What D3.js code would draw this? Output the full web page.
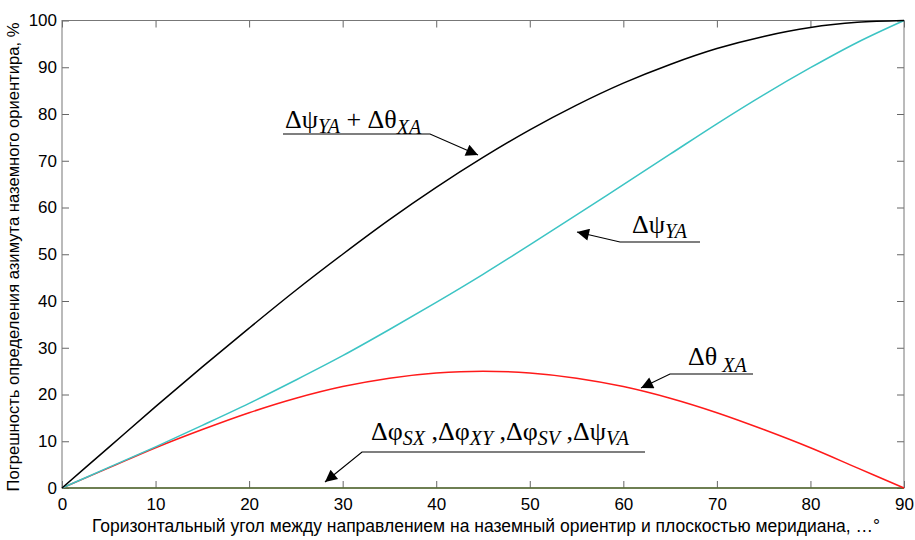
<!DOCTYPE html>
<html>
<head>
<meta charset="utf-8">
<script src="https://cdn.jsdelivr.net/npm/d3@7"></script>
<style>
body { margin:0; background:#fff; }
.tick text { font-family:"Liberation Sans", Arial, sans-serif; font-size:17px; fill:#000; }
</style>
</head>
<body>
<div class="canvas"></div>
<script>
//Values, every 5 degrees
var angles = [0,5,10,15,20,25,30,35,40,45,50,55,60,65,70,75,80,85,90];
var sumValues = [0,8.7,17.4,25.9,34.2,42.3,50,57.4,64.3,70.7,76.6,81.9,86.6,90.6,94.0,96.6,98.5,99.6,100];
var psiValues = [0,4.4,8.8,13.4,18.1,23.1,28.3,33.9,39.7,45.7,52.0,58.4,64.9,71.4,77.9,84.1,89.9,95.3,100];
var thetaValues = [0,4.3,8.6,12.5,16.1,19.2,21.7,23.5,24.6,25,24.6,23.5,21.7,19.2,16.1,12.5,8.6,4.3,0];
var zeroValues = [0,0,0,0,0,0,0,0,0,0,0,0,0,0,0,0,0,0,0];
var xTicks = [0,10,20,30,40,50,60,70,80,90];
var yTicks = [0,10,20,30,40,50,60,70,80,90,100];

//Set up the drawing environment here
var margin = {t:20.5,r:11,b:52,l:62};
var W = 915, H = 540;
var width = W-margin.l-margin.r,
	height = H-margin.t-margin.b;
var serif = '"Times New Roman", "Liberation Serif", "DejaVu Serif", serif';
var sans = '"Liberation Sans", Arial, sans-serif';

var svg = d3.select('.canvas')
	.append('svg')
	.attr('width',W)
	.attr('height',H);

var plot = svg.append('g')
	.attr('transform','translate('+margin.l+','+margin.t+')');

var x = d3.scaleLinear().domain([0,90]).range([0,width]);
var y = d3.scaleLinear().domain([0,100]).range([height,0]);

//axes with inward ticks on all four sides
var gx = plot.append('g').attr('transform','translate(0,'+height+')')
	.call(d3.axisBottom(x).tickValues(xTicks).tickSizeInner(-7).tickSizeOuter(0).tickPadding(12));
var gy = plot.append('g')
	.call(d3.axisLeft(y).tickValues(yTicks).tickSizeInner(-7).tickSizeOuter(0).tickPadding(5));
var gt = plot.append('g')
	.call(d3.axisTop(x).tickValues(xTicks).tickSizeInner(-7).tickSizeOuter(0).tickFormat(''));
var gr = plot.append('g').attr('transform','translate('+width+',0)')
	.call(d3.axisRight(y).tickValues(yTicks).tickSizeInner(-7).tickSizeOuter(0).tickFormat(''));
[gx,gy,gt,gr].forEach(function (g) {
	g.select('.domain').remove();
	g.selectAll('.tick line').attr('stroke','#666');
});
gx.selectAll('.tick text').attr('dy','0.6em');

plot.append('rect')
	.attr('width',width)
	.attr('height',height)
	.attr('fill','none')
	.attr('stroke','#777')
	.attr('stroke-width',1);

//curves
var line = d3.line()
	.x(function (d) { return x(d[0]); })
	.y(function (d) { return y(d[1]); })
	.curve(d3.curveMonotoneX);

var series = [
	{vals:zeroValues, color:'#556b2f'},
	{vals:thetaValues, color:'#ff1a1a'},
	{vals:psiValues, color:'#3cc4c4'},
	{vals:sumValues, color:'#000000'}
];
series.forEach(function (s) {
	plot.append('path')
		.datum(angles.map(function (a, i) { return [a, s.vals[i]]; }))
		.attr('d',line)
		.attr('fill','none')
		.attr('stroke',s.color)
		.attr('stroke-width',1.5);
});

//annotations with leader lines and arrowheads
svg.append('defs').append('marker')
	.attr('id','arr')
	.attr('viewBox','0 0 10 10')
	.attr('refX',10).attr('refY',5)
	.attr('markerWidth',18).attr('markerHeight',12)
	.attr('markerUnits','userSpaceOnUse')
	.attr('orient','auto')
	.append('path').attr('d','M0,0L10,5L0,10Z').attr('fill','#000');

function leader(pts) {
	svg.append('path')
		.attr('d','M'+pts.join('L'))
		.attr('fill','none')
		.attr('stroke','#000')
		.attr('stroke-width',1.2)
		.attr('marker-end','url(#arr)');
}

function label(px, py, parts) {
	var t = svg.append('text')
		.attr('x',px).attr('y',py)
		.style('font-family',serif)
		.style('font-size','26px')
		.attr('fill','#000');
	parts.forEach(function (p) {
		var ts = t.append('tspan').text(p.t);
		if (p.sub) {
			ts.style('font-style','italic').style('font-size','20px').attr('dy',p.dy || 5);
		} else if (p.up) {
			ts.attr('dy',-p.up);
		}
	});
}

leader([[283,134],[430,134],[478,155]]);
label(285,128,[{t:'\u0394\u03C8'},{t:'YA',sub:true},{t:' + \u0394\u03B8',up:5},{t:'XA',sub:true,dy:6}]);

leader([[700,242],[620,242],[577,232]]);
label(632,233,[{t:'\u0394\u03C8'},{t:'YA',sub:true}]);

leader([[753,374],[670,374],[641,388]]);
label(688,365,[{t:'\u0394\u03B8'},{t:' XA',sub:true,dy:7}]);

leader([[645,452],[362,452],[325,482]]);
label(371,440,[{t:'\u0394\u03C6'},{t:'SX',sub:true},{t:' ,\u0394\u03C6',up:5},{t:'XY',sub:true},{t:' ,\u0394\u03C6',up:5},{t:'SV',sub:true},{t:' ,\u0394\u03C8',up:5},{t:'VA',sub:true}]);

//axis titles
svg.append('text')
	.attr('x',486).attr('y',532)
	.attr('text-anchor','middle')
	.style('font-family',sans)
	.style('font-size','17.5px')
	.text('Горизонтальный угол между направлением на наземный ориентир и плоскостью меридиана, …°');

svg.append('text')
	.attr('transform','translate(19,257) rotate(-90)')
	.attr('text-anchor','middle')
	.style('font-family',sans)
	.style('font-size','16.6px')
	.text('Погрешность определения азимута наземного ориентира, %');
</script>
</body>
</html>
